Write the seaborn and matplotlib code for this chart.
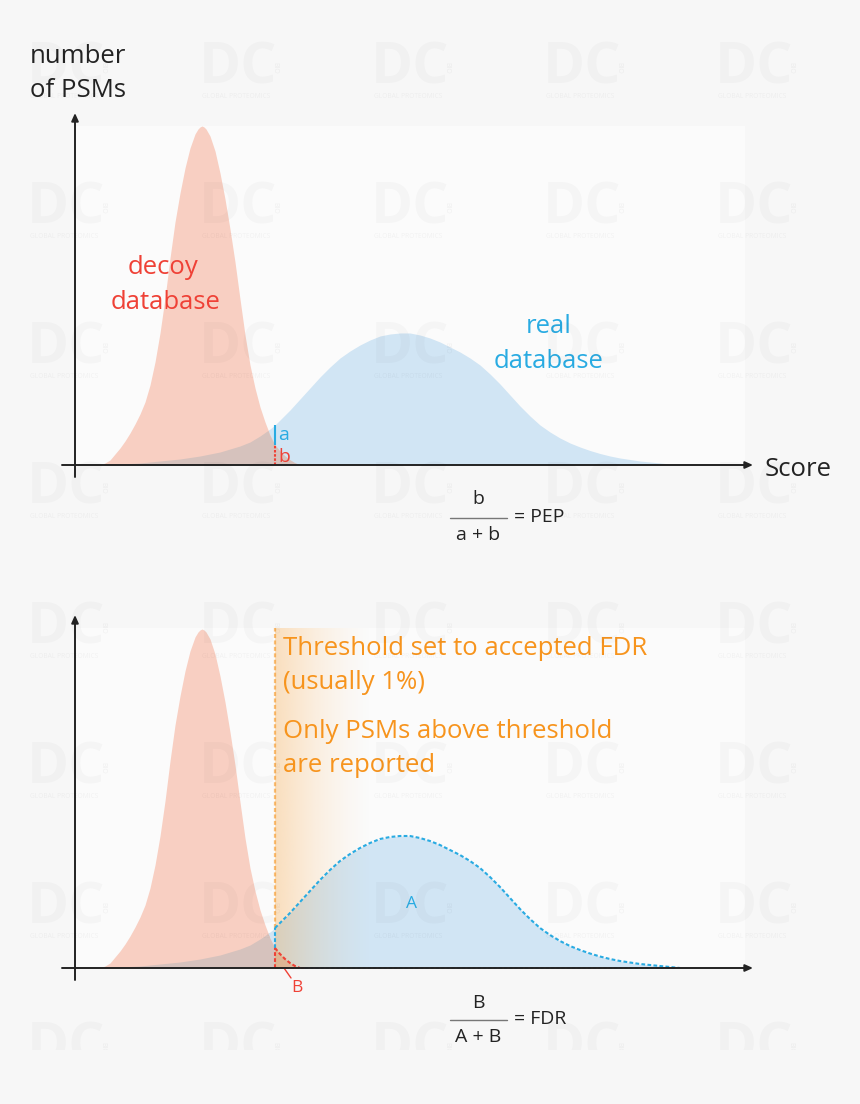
import numpy as np
import pandas as pd
import matplotlib
matplotlib.use("Agg")
import matplotlib.pyplot as plt
import seaborn as sns
from matplotlib.patches import Polygon

decoy_score = [100,105,110,115,120,125,130,135,140,145,150,155,160,165,170,175,180,185,190,195,198,200,202,204,206,210,215,220,225,230,235,240,245,250,255,260,265,270,275,280,285,290,295,300]
decoy_count = [0,2,5,11,17,24,32,41,51,63,80,103,132,167,207,243,272,297,317,331,336,338,339,338,336,329,314,292,266,236,203,166,130,100,77,58,43,30,20,14,9,5,2,0]
real_score = [100,110,120,130,140,150,160,170,180,190,200,210,220,230,240,250,260,270,275,280,290,300,310,320,330,340,350,360,370,380,390,400,405,410,420,430,440,450,460,470,480,490,500,510,520,530,540,550,560,570,580,590,600,610,620,630,640,650,660,670,680]
real_count = [0,0.5,1,1.5,2,3,4,5,6,7.5,9,11,13,16,19,23,29,36,40,45,55,66,77,88,98,107,114,120,125,129,131,132,132,132,130,127,123,118,113,107,100,91,81,70,59,49,40,33,27,22,18,14.5,11.5,9,7,5.5,4,3,2,1,0]
threshold = 275

BG = "#f7f7f7"; PANEL = "#fbfbfb"; DECOY = "#f8cfc2"; REAL = "#d1e5f4"; BOTH = "#d6c2bd"
RED = "#ef4136"; BLUE = "#29abe2"; ORANGE = "#f7941d"; INK = "#232323"
W, H = 860, 1104

sns.set_theme(style="white")
plt.rcParams["font.family"] = ["Open Sans", "DejaVu Sans"]
decoy = pd.DataFrame({"score": decoy_score, "count": decoy_count})
real = pd.DataFrame({"score": real_score, "count": real_count})

fig = plt.figure(figsize=(W/100, H/100), dpi=100, facecolor=BG)

def panel(top, bottom):
    ax = fig.add_axes([75/W, 1-bottom/H, 670/W, (bottom-top)/H], facecolor=PANEL)
    ax.fill_between(real["score"], 0, real["count"], color=REAL, lw=0, zorder=1)
    ax.fill_between(decoy["score"], 0, decoy["count"], color=DECOY, lw=0, zorder=2)
    over = ax.fill_between(real["score"], 0, real["count"], color=BOTH, lw=0, zorder=3)
    clip = Polygon(np.column_stack([decoy["score"], decoy["count"]]), closed=True, transform=ax.transData)
    over.set_clip_path(clip)
    ax.set_xlim(75, 745); ax.set_ylim(0, bottom-top)
    ax.set_xticks([]); ax.set_yticks([]); ax.set_xlabel(""); ax.set_ylabel("")
    sns.despine(ax=ax, left=True, bottom=True)
    return ax

ax1 = panel(126, 465)
ax2 = panel(628, 968)

a_top = real_count[real_score.index(threshold)]
b_top = decoy_count[decoy_score.index(threshold)]
ax1.vlines(threshold, b_top, a_top, color=BLUE, lw=1.5, zorder=5)
ax1.vlines(threshold, 0, b_top, color=RED, lw=1.5, ls=(0, (1.2, 0.8)), zorder=5)

rgba = np.zeros((1, 256, 4))
rgba[..., :3] = matplotlib.colors.to_rgb(ORANGE)
rgba[..., 3] = 0.28 * np.linspace(1, 0, 256) ** 1.5
ax2.imshow(rgba, extent=[threshold, 375, 0, 340], aspect="auto", zorder=4, interpolation="bilinear")
ax2.set_xlim(75, 745); ax2.set_ylim(0, 340)
dash = (0, (1.8, 1.1))
ax2.vlines(threshold, a_top, 340, color=ORANGE, lw=1.6, ls=dash, alpha=.6, zorder=5)
ax2.vlines(threshold, b_top, a_top, color=BLUE, lw=1.5, ls=dash, zorder=5)
ax2.vlines(threshold, 0, b_top, color=RED, lw=1.5, ls=dash, zorder=5)
sns.lineplot(data=real[real["score"] >= threshold], x="score", y="count", ax=ax2, color=BLUE,
             lw=1.5, linestyle=dash, legend=False, zorder=6, estimator=None)
sns.lineplot(data=decoy[decoy["score"] >= threshold], x="score", y="count", ax=ax2, color=RED,
             lw=1.5, linestyle=dash, legend=False, zorder=6, estimator=None)
ax2.set_xticks([]); ax2.set_yticks([]); ax2.set_xlabel(""); ax2.set_ylabel("")

ov = fig.add_axes([0, 0, 1, 1], facecolor="none", zorder=10)
ov.set_xlim(0, W); ov.set_ylim(H, 0); ov.axis("off")

def arrow(x0, y0, x1, y1):
    ov.annotate("", xy=(x1, y1), xytext=(x0, y0),
                arrowprops=dict(arrowstyle="-|>,head_width=0.17,head_length=0.38", color=INK, lw=1.4,
                                shrinkA=0, shrinkB=0))

arrow(75, 477, 75, 113); arrow(62, 465, 753, 465)
arrow(75, 980, 75, 615); arrow(62, 968, 753, 968)
ov.plot([275, 305], [968.3, 968.3], color=RED, lw=1.3, ls=dash)
ov.plot([305, 675], [968.3, 968.3], color=BLUE, lw=1.3, ls=dash)
ov.plot([284, 291], [968, 978], color=RED, lw=1)

def T(x, y, s, size, color=INK, ha="left"):
    ov.text(x, y+1.5, s, fontsize=size, color=color, ha=ha, va="center")

T(30, 55, "number", 18.5); T(30, 89, "of PSMs", 18.5)
T(163, 266, "decoy", 18.5, RED, "center"); T(166, 301, "database", 18.5, RED, "center")
T(549, 325, "real", 18.5, BLUE, "center"); T(549, 360, "database", 18.5, BLUE, "center")
T(765, 468, "Score", 18.5)
T(278, 434, "a", 14, BLUE); T(278, 455, "b", 14, RED)
T(412, 903, "A", 12.5, BLUE, "center"); T(297, 986, "B", 12.5, RED, "center")
for y, s in [(647, "Threshold set to accepted FDR"), (681, "(usually 1%)"),
             (730, "Only PSMs above threshold"), (764, "are reported")]:
    T(283, y, s, 18.5, ORANGE)
T(478, 497, "b", 14, INK, "center"); T(478, 534, "a + b", 14, INK, "center"); T(514, 516, "= PEP", 14)
T(478, 1001, "B", 14, INK, "center"); T(478, 1036, "A + B", 14, INK, "center"); T(514, 1018, "= FDR", 14)
ov.plot([450, 507], [518, 518], color="#777777", lw=1)
ov.plot([450, 507], [1020, 1020], color="#777777", lw=1)

clip_rect = matplotlib.patches.Rectangle((0, 0), W, 1050, transform=ov.transData)
for cx in [30, 202, 374, 546, 718]:
    for cy in [40, 180, 320, 460, 600, 740, 880, 1020]:
        wm = [ov.text(cx-3, cy+28, "DC", fontsize=41, fontweight="bold", color="black", alpha=.024,
                      ha="left", va="center", clip_on=True)]
        if cy < 1020:
            wm.append(ov.text(cx, cy+56, "GLOBAL PROTEOMICS", fontsize=4.8, color="black", alpha=.04,
                              ha="left", va="center", clip_on=True))
        wm.append(ov.text(cx+73, cy+28, "BIO", fontsize=5, color="black", alpha=.05, rotation=-90,
                          ha="center", va="center", clip_on=True))
        for t in wm:
            t.set_clip_path(clip_rect)

fig.savefig("out.png", dpi=100, facecolor=BG)
